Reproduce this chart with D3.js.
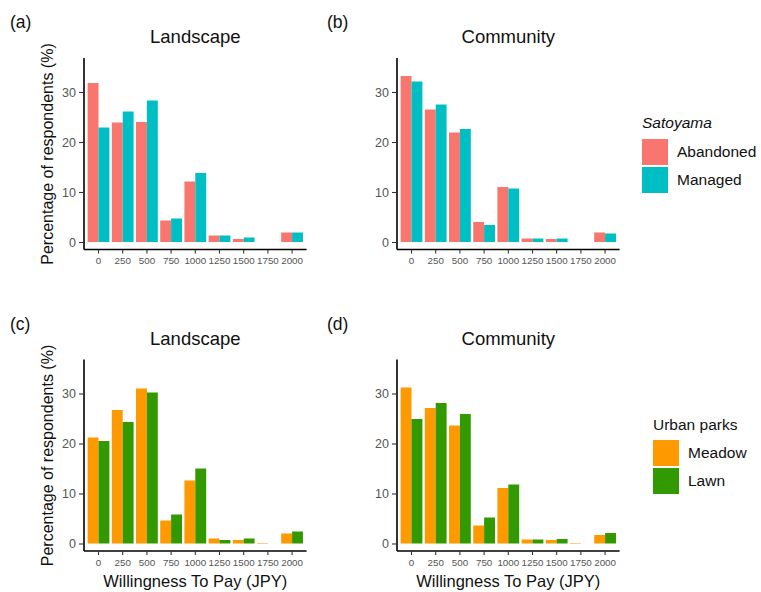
<!DOCTYPE html>
<html>
<head>
<meta charset="utf-8">
<script src="https://cdn.jsdelivr.net/npm/d3@7"></script>
<style>
  body { margin: 0; background: #fff; }
  svg { font-family: "Liberation Sans", Arial, sans-serif; }
</style>
</head>
<body>
<svg id="chart" width="761" height="592"></svg>
<script>
// willingness-to-pay categories (JPY)
var WTP_LABELS = ["0", "250", "500", "750", "1000", "1250", "1500", "1750", "2000"];
var Y_TICKS = [0, 10, 20, 30];

var SATOYAMA_GROUPS = ["Abandoned", "Managed"];
var PARK_GROUPS = ["Meadow", "Lawn"];

// percentage of respondents
var landscapeAbandoned = [31.8, 23.9, 24.0, 4.3, 12.1, 1.3, 0.6, 0, 1.9];
var landscapeManaged   = [22.9, 26.1, 28.3, 4.7, 13.8, 1.3, 0.9, 0, 1.9];
var communityAbandoned = [33.2, 26.5, 21.9, 4.0, 11.0, 0.7, 0.6, 0, 1.9];
var communityManaged   = [32.1, 27.5, 22.6, 3.4, 10.7, 0.7, 0.7, 0, 1.7];
var landscapeMeadow    = [21.2, 26.7, 31.0, 4.6, 12.6, 1.0, 0.7, 0.1, 2.0];
var landscapeLawn      = [20.5, 24.3, 30.2, 5.8, 15.0, 0.7, 1.0, 0, 2.4];
var communityMeadow    = [31.2, 27.1, 23.6, 3.6, 11.1, 0.8, 0.7, 0.1, 1.7];
var communityLawn      = [24.9, 28.1, 25.9, 5.2, 11.8, 0.8, 0.9, 0, 2.1];

var SATOYAMA_COLORS = ["#F8766D", "#00BFC4"];
var PARK_COLORS = ["#FF9900", "#339900"];

var svg = d3.select("#chart");
var TEXT_GREY = "#555";

function toRows(a, b) {
    return WTP_LABELS.map(function (w, i) { return { wtp: w, values: [a[i], b[i]] }; });
}

function drawPanel(p) {
    var g = svg.append("g");
    var plotW = 222.6;
    var x = d3.scaleBand().domain(WTP_LABELS)
        .range([p.left, p.left + plotW])
        .paddingInner(0.1).paddingOuter(0.15);
    var xSub = d3.scaleBand().domain([0, 1]).range([0, x.bandwidth()]);
    var y = d3.scaleLinear().domain([-1.5, 36.8]).range([p.top + 191.5, p.top]);

    // bars
    var groups = g.selectAll(".grp").data(toRows(p.a, p.b)).enter()
        .append("g").attr("transform", function (d) { return "translate(" + x(d.wtp) + ",0)"; });
    groups.selectAll("rect").data(function (d) { return d.values; }).enter()
        .append("rect")
        .attr("x", function (d, i) { return xSub(i); })
        .attr("width", xSub.bandwidth())
        .attr("y", function (d) { return y(Math.max(d, 0)); })
        .attr("height", function (d) { return y(0) - y(Math.max(d, 0)); })
        .attr("fill", function (d, i) { return p.colors[i]; });

    // axes
    var xAxis = d3.axisBottom(x).tickSize(4).tickPadding(4).tickSizeOuter(0);
    var xg = g.append("g").attr("transform", "translate(0," + (p.top + 191.5) + ")").call(xAxis);
    xg.select(".domain").attr("d", "M" + p.left + ",0H" + (p.left + plotW))
        .attr("stroke", "#000").attr("stroke-width", 1.6);
    xg.selectAll(".tick line").attr("stroke", "#333").attr("stroke-width", 1.1);
    xg.selectAll(".tick text").attr("fill", TEXT_GREY).attr("font-size", 9.8)
        .attr("font-family", "Liberation Sans, Arial, sans-serif");

    var yAxis = d3.axisLeft(y).tickValues(Y_TICKS).tickSize(5).tickPadding(3).tickSizeOuter(0);
    var yg = g.append("g").attr("transform", "translate(" + p.left + ",0)").call(yAxis);
    yg.select(".domain").attr("d", "M0," + p.top + "V" + (p.top + 191.5))
        .attr("stroke", "#000").attr("stroke-width", 1.6);
    yg.selectAll(".tick line").attr("stroke", "#333").attr("stroke-width", 1.1);
    yg.selectAll(".tick text").attr("fill", TEXT_GREY).attr("font-size", 12.5)
        .attr("font-family", "Liberation Sans, Arial, sans-serif");

    // title and panel letter
    g.append("text").attr("x", p.left + plotW / 2).attr("y", p.top - 15)
        .attr("text-anchor", "middle").attr("font-size", 18.5).attr("fill", "#111")
        .text(p.title);
    g.append("text").attr("x", p.labelX).attr("y", p.top - 30)
        .attr("font-size", 17.5).attr("fill", "#111").text(p.letter);

    if (p.yTitle) {
        g.append("text")
            .attr("transform", "translate(" + (p.left - 31) + "," + (p.top + 96) + ") rotate(-90)")
            .attr("text-anchor", "middle").attr("font-size", 16).attr("fill", "#111")
            .text("Percentage of respondents (%)");
    }
    if (p.xTitle) {
        g.append("text").attr("x", p.left + plotW / 2).attr("y", p.top + 227)
            .attr("text-anchor", "middle").attr("font-size", 16.5).attr("fill", "#111")
            .text("Willingness To Pay (JPY)");
    }
}

function drawLegend(l) {
    var g = svg.append("g");
    g.append("text").attr("x", l.x).attr("y", l.titleY)
        .attr("font-size", 15.5).attr("fill", "#111")
        .attr("font-style", l.italic ? "italic" : "normal")
        .text(l.title);
    var items = g.selectAll(".item").data(l.labels).enter().append("g")
        .attr("transform", function (d, i) { return "translate(" + l.x + "," + (l.keyY + i * 28) + ")"; });
    items.append("rect").attr("width", 26).attr("height", 26)
        .attr("fill", function (d, i) { return l.colors[i]; });
    items.append("text").attr("x", 35).attr("y", 13).attr("dy", "0.35em")
        .attr("font-size", 15.5).attr("fill", "#111").text(function (d) { return d; });
}

drawPanel({ left: 84, top: 58, a: landscapeAbandoned, b: landscapeManaged, colors: SATOYAMA_COLORS,
    title: "Landscape", letter: "(a)", labelX: 10, yTitle: true });
drawPanel({ left: 397, top: 58, a: communityAbandoned, b: communityManaged, colors: SATOYAMA_COLORS,
    title: "Community", letter: "(b)", labelX: 327 });
drawPanel({ left: 84, top: 359.5, a: landscapeMeadow, b: landscapeLawn, colors: PARK_COLORS,
    title: "Landscape", letter: "(c)", labelX: 10, yTitle: true, xTitle: true });
drawPanel({ left: 397, top: 359.5, a: communityMeadow, b: communityLawn, colors: PARK_COLORS,
    title: "Community", letter: "(d)", labelX: 327, xTitle: true });

drawLegend({ x: 642, titleY: 128, keyY: 139, title: "Satoyama", italic: true,
    labels: SATOYAMA_GROUPS, colors: SATOYAMA_COLORS });
drawLegend({ x: 653, titleY: 430, keyY: 440, title: "Urban parks", italic: false,
    labels: PARK_GROUPS, colors: PARK_COLORS });
</script>
</body>
</html>
